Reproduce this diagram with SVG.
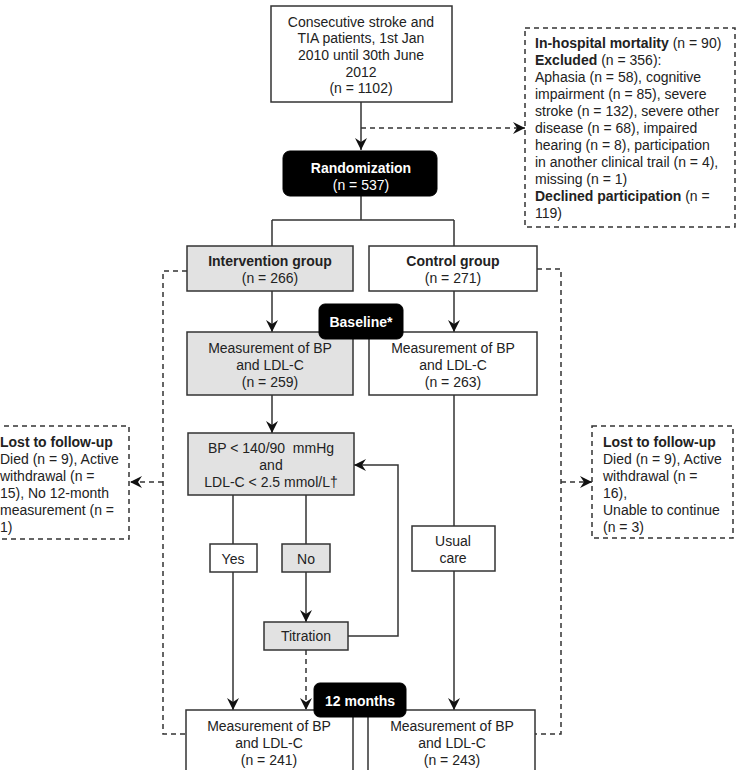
<svg xmlns="http://www.w3.org/2000/svg" width="748" height="770" viewBox="0 0 748 770">
<style>
text{font-family:"Liberation Sans",Arial,sans-serif;font-size:14px;fill:#222}
.c{text-anchor:middle}
.b{font-weight:bold}
.w{fill:#fff}
.box{fill:#fff;stroke:#333;stroke-width:1.5}
.g{fill:#e2e2e2;stroke:#333;stroke-width:1.5}
.blk{fill:#000;stroke:#000}
.dbox{fill:#fff;stroke:#333;stroke-width:1.5;stroke-dasharray:5,4}
.ln{fill:none;stroke:#333;stroke-width:1.5}
.dl{fill:none;stroke:#333;stroke-width:1.5;stroke-dasharray:5,4}
</style>
<defs>
<marker id="ah" viewBox="0 0 12 12" refX="12" refY="6" markerWidth="12" markerHeight="12" markerUnits="userSpaceOnUse" orient="auto">
<path d="M0,0 L12,6 L0,12 L4,6 z" fill="#111"/>
</marker>
</defs>
<g id="connectors">
<path class="ln" d="M361,102 V150" marker-end="url(#ah)"/>
<path class="dl" d="M361,128 H525" marker-end="url(#ah)"/>
<path class="ln" d="M361,196 V220 M272,220 H454 M272,220 V246 M454,220 V246"/>
<path class="ln" d="M272,291 V332" marker-end="url(#ah)"/>
<path class="ln" d="M454,291 V332" marker-end="url(#ah)"/>
<path class="ln" d="M272,395 V433" marker-end="url(#ah)"/>
<path class="ln" d="M233,495 V544 M306,495 V544"/>
<path class="ln" d="M306,572 V622" marker-end="url(#ah)"/>
<path class="ln" d="M348,636 H398 V465 H354" marker-end="url(#ah)"/>
<path class="ln" d="M233,572 V710" marker-end="url(#ah)"/>
<path class="dl" d="M306,650 V710" marker-end="url(#ah)"/>
<path class="ln" d="M454,395 V526"/>
<path class="ln" d="M454,571 V710" marker-end="url(#ah)"/>
<path class="dl" d="M187,271 H163 V734 H186"/>
<path class="dl" d="M163,482 H130" marker-end="url(#ah)"/>
<path class="dl" d="M537,269 H561 V734 H535"/>
<path class="dl" d="M561,482 H592" marker-end="url(#ah)"/>
</g>
<g id="start">
<rect class="box" x="271" y="6" width="181" height="96"/>
<text class="c" x="361" y="27">Consecutive stroke and</text>
<text class="c" x="361" y="43">TIA patients, 1st Jan</text>
<text class="c" x="361" y="60">2010 until 30th June</text>
<text class="c" x="361" y="77">2012</text>
<text class="c" x="361" y="93">(n = 1102)</text>
</g>
<g id="excluded">
<rect class="dbox" x="525" y="28" width="210" height="199"/>
<text x="535" y="48"><tspan class="b">In-hospital mortality</tspan> (n = 90)</text>
<text x="535" y="65"><tspan class="b">Excluded</tspan> (n = 356):</text>
<text x="535" y="82">Aphasia (n = 58), cognitive</text>
<text x="535" y="99">impairment (n = 85), severe</text>
<text x="535" y="116">stroke (n = 132), severe other</text>
<text x="535" y="133">disease (n = 68), impaired</text>
<text x="535" y="150">hearing (n = 8), participation</text>
<text x="535" y="167">in another clinical trail (n = 4),</text>
<text x="535" y="184">missing (n = 1)</text>
<text x="535" y="201"><tspan class="b">Declined participation</tspan> (n =</text>
<text x="535" y="218">119)</text>
</g>
<g id="randomization">
<rect class="blk" x="283" y="151" width="154" height="45" rx="7"/>
<text class="c b w" x="361" y="173">Randomization</text>
<text class="c w" x="361" y="190">(n = 537)</text>
</g>
<g id="intervention">
<rect class="g" x="187" y="246" width="166" height="45"/>
<text class="c b" x="270" y="266">Intervention group</text>
<text class="c" x="270" y="283">(n = 266)</text>
</g>
<g id="control">
<rect class="box" x="369" y="246" width="168" height="45"/>
<text class="c b" x="453" y="266">Control group</text>
<text class="c" x="453" y="283">(n = 271)</text>
</g>
<g id="int-baseline">
<rect class="g" x="187" y="332" width="166" height="63"/>
<text class="c" x="270" y="353">Measurement of BP</text>
<text class="c" x="270" y="370">and LDL-C</text>
<text class="c" x="270" y="387">(n = 259)</text>
</g>
<g id="ctl-baseline">
<rect class="box" x="369" y="332" width="168" height="63"/>
<text class="c" x="453" y="353">Measurement of BP</text>
<text class="c" x="453" y="370">and LDL-C</text>
<text class="c" x="453" y="387">(n = 263)</text>
</g>
<g id="baseline">
<rect class="blk" x="319" y="304" width="84" height="35" rx="6"/>
<text class="c b w" x="361" y="327">Baseline*</text>
</g>
<g id="target">
<rect class="g" x="188" y="433" width="166" height="62"/>
<text class="c" x="271" y="453">BP &lt; 140/90&#160; mmHg</text>
<text class="c" x="271" y="470">and</text>
<text class="c" x="271" y="487">LDL-C &lt; 2.5 mmol/L†</text>
</g>
<g id="yes">
<rect class="box" x="210" y="544" width="47" height="28"/>
<text class="c" x="233" y="564">Yes</text>
</g>
<g id="no">
<rect class="g" x="282" y="544" width="48" height="28"/>
<text class="c" x="306" y="564">No</text>
</g>
<g id="titration">
<rect class="g" x="264" y="622" width="84" height="28"/>
<text class="c" x="306" y="641">Titration</text>
</g>
<g id="usual-care">
<rect class="box" x="412" y="526" width="83" height="45"/>
<text class="c" x="453" y="546">Usual</text>
<text class="c" x="453" y="563">care</text>
</g>
<g id="lost-left">
<rect class="dbox" x="-5" y="426" width="134" height="113"/>
<text class="b" x="0" y="447">Lost to follow-up</text>
<text x="0" y="464">Died (n = 9), Active</text>
<text x="0" y="481">withdrawal (n =</text>
<text x="0" y="498">15), No 12-month</text>
<text x="0" y="515">measurement (n =</text>
<text x="0" y="532">1)</text>
</g>
<g id="lost-right">
<rect class="dbox" x="592" y="426" width="141" height="112"/>
<text class="b" x="603" y="447">Lost to follow-up</text>
<text x="603" y="464">Died (n = 9), Active</text>
<text x="603" y="481">withdrawal (n =</text>
<text x="603" y="498">16),</text>
<text x="603" y="515">Unable to continue</text>
<text x="603" y="532">(n = 3)</text>
</g>
<g id="int-12m">
<rect class="box" x="186" y="710" width="167" height="70"/>
<text class="c" x="269" y="731">Measurement of BP</text>
<text class="c" x="269" y="748">and LDL-C</text>
<text class="c" x="269" y="765">(n = 241)</text>
</g>
<g id="ctl-12m">
<rect class="box" x="368" y="710" width="167" height="70"/>
<text class="c" x="452" y="731">Measurement of BP</text>
<text class="c" x="452" y="748">and LDL-C</text>
<text class="c" x="452" y="765">(n = 243)</text>
</g>
<g id="months12">
<rect class="blk" x="314" y="683" width="92" height="34" rx="6"/>
<text class="c b w" x="360" y="706">12 months</text>
</g>
</svg>
